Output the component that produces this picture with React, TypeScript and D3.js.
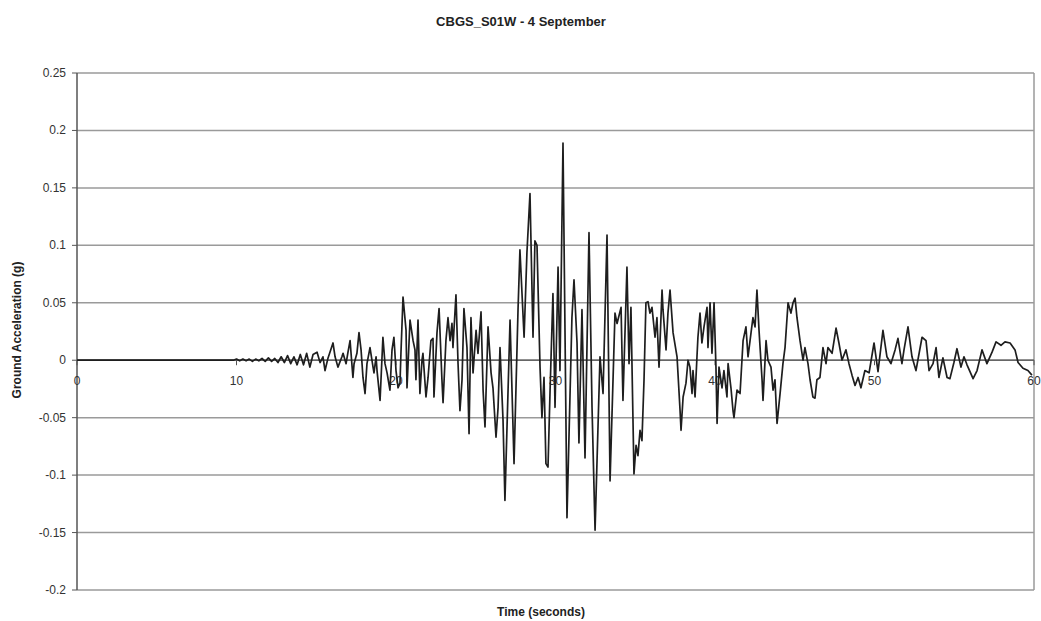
import React from "react";
import * as d3 from "d3";

const times: number[] = [
  0, 9.8, 10.0, 10.2, 10.4, 10.6, 10.8, 11.0, 11.2, 11.4, 11.6, 11.8, 12.0, 12.2, 12.4, 12.6, 12.8,
  13.0, 13.2, 13.4, 13.6, 13.8, 14.0, 14.2, 14.4, 14.6, 14.8,
  15.05, 15.24, 15.42, 15.55, 15.74, 16.05, 16.18, 16.36, 16.61, 16.68, 16.87, 16.99, 17.12, 17.3,
  17.37, 17.55, 17.68, 17.81, 17.93, 18.06, 18.18, 18.37, 18.56, 18.62, 18.75, 18.81, 19.0, 19.18,
  19.31, 19.44, 19.62, 19.75, 19.87, 20.0, 20.13, 20.25, 20.31, 20.44,
  20.63, 20.69, 20.88, 21.07, 21.19, 21.25, 21.38, 21.5, 21.63, 21.69, 21.88, 22.01, 22.19, 22.32,
  22.38, 22.57, 22.7, 22.88, 22.95, 23.13, 23.26, 23.39, 23.51, 23.57, 23.76, 23.89, 24.01, 24.14,
  24.26, 24.45, 24.58, 24.7, 24.83, 25.02, 25.14, 25.33, 25.46, 25.58, 25.77, 25.96, 26.08, 26.27,
  26.4, 26.52, 26.71, 26.83,
  27.15, 27.4, 27.65, 27.77, 28.03, 28.21, 28.4, 28.59, 28.71, 28.84, 29.03, 29.15, 29.28, 29.4,
  29.53, 29.66, 29.84, 29.97, 30.16, 30.28, 30.47, 30.72, 31.03, 31.16, 31.35, 31.47, 31.66, 31.85,
  32.1, 32.29, 32.48, 32.79, 32.98, 33.23, 33.42, 33.73, 33.86, 34.11, 34.23, 34.48, 34.61, 34.73,
  34.92, 35.05, 35.17, 35.3, 35.42, 35.55, 35.67, 35.8, 35.92, 36.05, 36.24, 36.36, 36.49, 36.68,
  36.74, 36.93, 37.05, 37.18, 37.37, 37.62, 37.81, 37.87, 38.0, 38.18, 38.31, 38.43, 38.56, 38.62,
  38.75, 38.87, 38.93, 39.06, 39.18, 39.31, 39.5, 39.56, 39.69, 39.81, 39.94, 40.06, 40.13, 40.25,
  40.44, 40.56, 40.75, 40.82, 41.0, 41.13, 41.19, 41.38, 41.57, 41.76, 41.94, 42.07, 42.26, 42.38,
  42.51, 42.63, 42.76, 42.95, 43.01, 43.2, 43.32, 43.51, 43.64, 43.76, 43.89, 44.08, 44.26, 44.39,
  44.58, 44.76, 44.89, 45.02, 45.14, 45.33, 45.52, 45.64, 45.83, 45.96, 46.14, 46.27, 46.39, 46.58,
  46.77, 46.96, 47.08, 47.34, 47.59, 47.77, 47.96, 48.21, 48.4, 48.59, 48.78, 48.97,
  49.15, 49.4, 49.66, 49.97, 50.22, 50.53, 50.78, 51.03, 51.29, 51.47, 51.72, 51.85, 52.1, 52.35,
  52.6, 52.98, 53.23, 53.42, 53.67, 53.86, 54.04, 54.29, 54.55, 54.73, 54.98, 55.17, 55.42, 55.61,
  55.8, 56.18, 56.43, 56.74, 57.05, 57.37, 57.62, 57.93, 58.18, 58.5, 58.81, 59.0, 59.31, 59.62, 59.87,
];

const accel: number[] = [
  0, 0, 0.001, -0.0005, 0.001, -0.0005, 0.001, -0.001, 0.001, -0.0005, 0.0015, -0.001, 0.002, -0.001, 0.0015, -0.002, 0.003,
  -0.002, 0.004, -0.003, 0.003, -0.004, 0.005, -0.004, 0.006, -0.006, 0.005,
  0.007, -0.002, 0.003, -0.009, 0.002, 0.015, 0.003, -0.006, 0.003, 0.006, -0.003, 0.007, 0.017, -0.015,
  -0.003, 0.006, 0.024, 0.009, -0.015, -0.029, -0.003, 0.011, -0.006, -0.011, 0.003, -0.009, -0.035, 0.02,
  -0.003, -0.011, -0.026, 0.009, 0.02, -0.009, -0.024, -0.02, 0.006, 0.055,
  0.026, -0.024, 0.035, 0.017, 0.009, -0.017, 0.035, -0.029, 0, 0.006, -0.032, -0.015, 0.017, 0.019,
  -0.032, 0.024, 0.045, -0.017, -0.037, 0.017, 0.037, 0.017, 0.032, 0.011, 0.057, -0.003, -0.044, -0.017,
  0.045, 0.011, -0.064, 0.037, -0.011, 0.026, 0.006, 0.042, -0.026, -0.058, 0.029, -0.011, -0.024, -0.067,
  -0.041, 0.011, -0.052, -0.122,
  0.035, -0.09, 0.044, 0.096, 0.02, 0.094, 0.145, 0.02, 0.104, 0.1, -0.006, -0.05, -0.015, -0.09,
  -0.093, -0.026, 0.058, -0.041, 0.081, -0.009, 0.189, -0.137, 0.037, 0.07, 0.015, -0.072, 0.044, -0.085,
  0.111, -0.041, -0.148, 0.003, -0.029, 0.109, -0.105, 0.041, 0.032, 0.046, -0.035, 0.081, -0.003, 0.046,
  -0.099, -0.074, -0.083, -0.061, -0.07, -0.017, 0.05, 0.051, 0.041, 0.046, 0.02, 0.037, -0.006, 0.061,
  0.044, 0.009, 0.041, 0.061, 0.024, 0.003, -0.044, -0.061, -0.032, -0.02, 0, -0.006, -0.029, -0.009,
  -0.032, 0.003, 0.02, 0.041, 0.015, 0.029, 0.046, 0.011, 0.05, 0.006, 0.05, -0.006, -0.055, -0.006,
  -0.024, -0.009, -0.032, -0.003, -0.024, -0.044, -0.05, -0.026, -0.029, 0.017, 0.029, 0.003, 0.024, 0.037,
  0.029, 0.061, 0.026, -0.017, -0.035, 0.017, 0, -0.006, -0.026, -0.017, -0.055, -0.029, -0.003, 0.011,
  0.05, 0.041, 0.05, 0.054, 0.037, 0.017, 0, 0.011, -0.003, -0.017, -0.032, -0.033, -0.017, -0.015,
  0.011, -0.003, 0.011, 0.006, 0.028, 0.015, 0, 0.009, -0.003, -0.013, -0.022, -0.015,
  -0.024, -0.009, -0.011, 0.015, -0.01, 0.026, 0.003, -0.003, 0.009, 0.019, -0.003, 0.009, 0.029, 0.003,
  -0.009, 0.02, 0.017, -0.009, -0.003, 0.011, -0.015, 0.002, -0.015, -0.016, -0.002, 0.01, -0.006, 0.003,
  -0.004, -0.016, -0.009, 0.009, -0.003, 0.007, 0.016, 0.013, 0.016, 0.015, 0.009, -0.002, -0.007, -0.009, -0.013,
];

const yTicks: number[] = [0.25, 0.2, 0.15, 0.1, 0.05, 0, -0.05, -0.1, -0.15, -0.2];
const xTicks: number[] = [0, 10, 20, 30, 40, 50, 60];

const W = 1041;
const H = 621;
const m = { left: 77, right: 1034, top: 73, bottom: 590 };

export default function App() {
  const x = d3.scaleLinear().domain([0, 60]).range([m.left, m.right]);
  const y = d3.scaleLinear().domain([-0.2, 0.25]).range([m.bottom, m.top]);
  const n = Math.min(times.length, accel.length);
  const pts: [number, number][] = d3.range(n).map((i) => [times[i], accel[i]]);
  const line = d3
    .line<[number, number]>()
    .x((d) => x(d[0]))
    .y((d) => y(d[1]));
  const font = "'Liberation Sans', Arial, sans-serif";
  return (
    <svg
      width={W}
      height={H}
      style={{ position: "absolute", left: 0, top: 0, background: "#fff" }}
      fontFamily={font}
    >
      <rect x={0} y={0} width={W} height={H} fill="#fff" />
      <text x={521} y={26} textAnchor="middle" fontSize={13} fontWeight="bold" fill="#222">
        CBGS_S01W - 4 September
      </text>
      {yTicks.map((v) => (
        <g key={v}>
          <line x1={m.left} x2={m.right} y1={y(v)} y2={y(v)} stroke="#9a9a9a" strokeWidth={1.5} />
          <line x1={m.left - 5} x2={m.left} y1={y(v)} y2={y(v)} stroke="#555" strokeWidth={1} />
          <text x={m.left - 11} y={y(v) + 4} textAnchor="end" fontSize={12} fill="#333">
            {String(v)}
          </text>
        </g>
      ))}
      <line x1={m.right} x2={m.right} y1={m.top} y2={m.bottom} stroke="#9a9a9a" strokeWidth={1.5} />
      <line x1={m.left} x2={m.left} y1={m.top} y2={m.bottom} stroke="#555" strokeWidth={1.5} />
      {xTicks.map((t) => (
        <g key={t}>
          <line x1={x(t)} x2={x(t)} y1={y(0)} y2={y(0) + 5} stroke="#555" strokeWidth={1} />
          <text x={x(t)} y={y(0) + 25} textAnchor="middle" fontSize={12} fill="#333">
            {String(t)}
          </text>
        </g>
      ))}
      <line x1={m.left} x2={m.right} y1={y(0)} y2={y(0)} stroke="#555" strokeWidth={1.2} />
      <path d={line(pts) || ""} fill="none" stroke="#1e1e1e" strokeWidth={1.7} strokeLinejoin="round" />
      <text
        transform={`translate(21, 330) rotate(-90)`}
        textAnchor="middle"
        fontSize={12}
        fontWeight="bold"
        fill="#222"
      >
        Ground Acceleration (g)
      </text>
      <text x={541} y={616} textAnchor="middle" fontSize={12} fontWeight="bold" fill="#222">
        Time (seconds)
      </text>
    </svg>
  );
}
